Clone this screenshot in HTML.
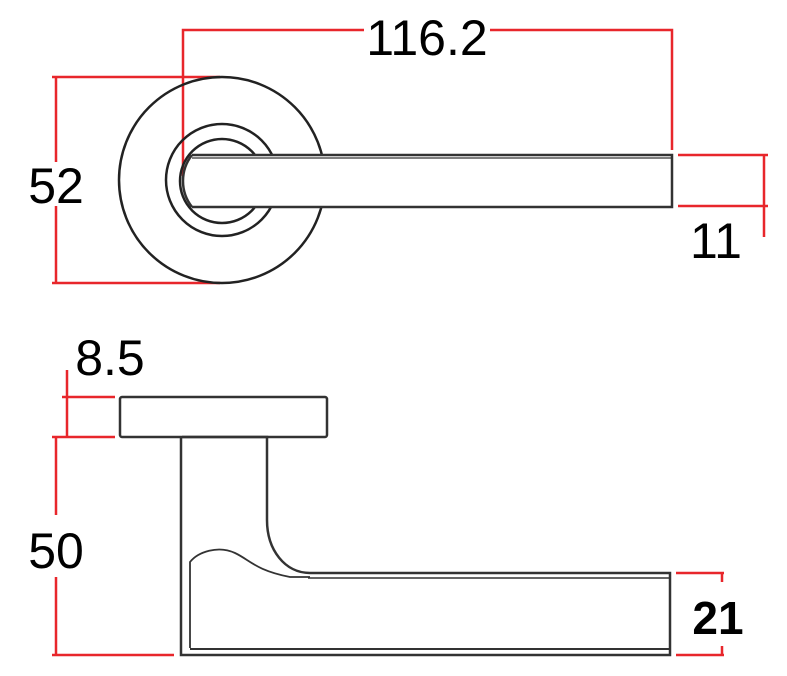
<!DOCTYPE html>
<html><head><style>body{margin:0;background:#fff}svg{display:block}</style></head><body>
<svg width="787" height="676" viewBox="0 0 787 676" xmlns="http://www.w3.org/2000/svg">
<g stroke="#e8262b" stroke-width="2.5" fill="none">
<path d="M183 176V30H672V150"/>
<path d="M52 77H220M52 283H220M56 77V283"/>
<path d="M678 155H768M678 206H768M764 155V237"/>
<path d="M67 370V437M62 397H115M52 437H115"/>
<path d="M56 437V515M56 577V655M52 655H174"/>
<path d="M676 573H724M676 655H724M722 573V582M722 646V655"/>
</g>
<g fill="#fff">
<rect x="364" y="16" width="126" height="40"/>
<rect x="26" y="162" width="60" height="44"/>
</g>
<g stroke="#222" stroke-width="2.5" fill="none">
<circle cx="222" cy="180" r="103"/>
<circle cx="222" cy="180" r="56"/>
<circle cx="222" cy="181" r="42"/>
</g>
<path d="M192 155H672V207H192A42 42 0 0 1 192 155Z" fill="#fff" stroke="none"/>
<g stroke="#333" stroke-width="2.5" fill="none">
<path d="M192 155H672V207H192"/>
<path d="M192 158H672" stroke-width="1.2"/>
<path d="M192 155A42 42 0 0 0 192 207"/>
<rect x="120" y="397" width="207" height="40" rx="2"/>
<path d="M182 437H267V520C267 550 285 573 310 573H670V655H181V437"/>
<path d="M308 578H670" stroke-width="1.5"/>
<path d="M190 649H670" stroke-width="2"/>
<path d="M190 648V562C198 552 218 545 235 553C250 560 255 570 290 577H310" stroke-width="1.8"/>
</g>
<g font-family="Liberation Sans, sans-serif" font-size="50" fill="#000">
<text x="427" y="55" text-anchor="middle">116.2</text>
<text x="56" y="203" text-anchor="middle">52</text>
<text x="716" y="258" text-anchor="middle">11</text>
<text x="110" y="375" text-anchor="middle">8.5</text>
<text x="56" y="568" text-anchor="middle">50</text>
<text x="718" y="634" text-anchor="middle" font-size="46" font-weight="bold">21</text>
</g>
</svg>
</body></html>
